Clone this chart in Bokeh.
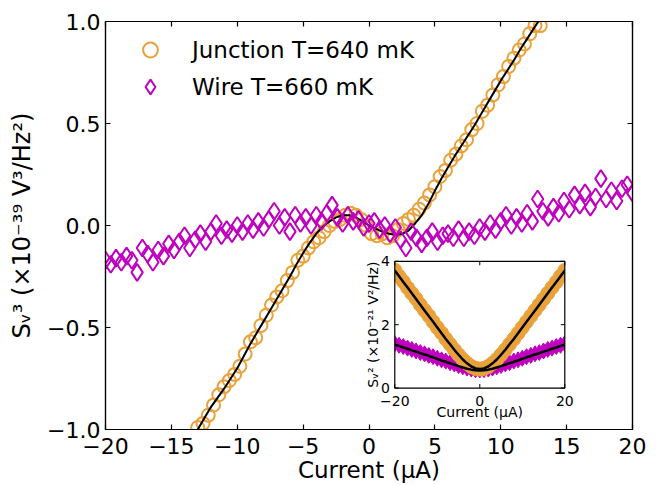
import math
from bokeh.plotting import figure
from bokeh.models import (Range1d, LinearAxis, FixedTicker, CustomJSTickFormatter,
                          Legend, LegendItem)
from bokeh.embed import file_html
from bokeh.resources import INLINE
from bokeh.core.properties import value

# ---------------- data ----------------
junction_x = [-13.0, -12.6, -12.2, -11.8, -11.4, -11.0, -10.6, -10.2, -9.8, -9.4,
              -9.0, -8.6, -8.2, -7.8, -7.4, -7.0, -6.6, -6.2, -5.8, -5.4,
              -5.0, -4.6, -4.2, -3.8, -3.4, -3.0, -2.6, -2.2, -1.8, -1.4,
              -1.0, -0.6, -0.2, 0.2, 0.6, 1.0, 1.4, 1.8, 2.2, 2.6,
              3.0, 3.4, 3.8, 4.2, 4.6, 5.0, 5.4, 5.8, 6.2, 6.6,
              7.0, 7.4, 7.8, 8.2, 8.6, 9.0, 9.4, 9.8, 10.2, 10.6,
              11.0, 11.4, 11.8, 12.2, 12.6, 13.0]
junction_y = [-0.99, -0.97, -0.93, -0.88, -0.83, -0.79, -0.76, -0.73, -0.69, -0.63,
              -0.57, -0.55, -0.49, -0.44, -0.39, -0.35, -0.32, -0.27, -0.23, -0.17,
              -0.15, -0.11, -0.08, -0.06, -0.03, 0.00, 0.02, 0.03, 0.05, 0.06,
              0.05, 0.03, 0.00, -0.04, -0.05, -0.04, -0.06, -0.05, -0.02, 0.01,
              0.03, 0.05, 0.08, 0.11, 0.15, 0.19, 0.24, 0.27, 0.32, 0.35,
              0.39, 0.42, 0.47, 0.50, 0.56, 0.59, 0.64, 0.69, 0.73, 0.78,
              0.82, 0.86, 0.89, 0.94, 0.98, 0.98]

fit_x = [-14.0, -13.5, -13.0, -12.5, -12.0, -11.5, -11.0, -10.5, -10.0, -9.5,
         -9.0, -8.5, -8.0, -7.5, -7.0, -6.5, -6.0, -5.5, -5.0, -4.5,
         -4.0, -3.5, -3.0, -2.5, -2.0, -1.5, -1.0, -0.5, 0.0, 0.5,
         1.0, 1.5, 2.0, 2.5, 3.0, 3.5, 4.0, 4.5, 5.0, 5.5,
         6.0, 6.5, 7.0, 7.5, 8.0, 8.5, 9.0, 9.5, 10.0, 10.5,
         11.0, 11.5, 12.0, 12.5, 13.0, 13.5, 14.0]
fit_y = [-1.11, -1.055, -1.00, -0.945, -0.89, -0.845, -0.80, -0.75, -0.70, -0.64,
         -0.58, -0.525, -0.47, -0.415, -0.36, -0.305, -0.25, -0.19, -0.135, -0.085,
         -0.04, -0.005, 0.02, 0.04, 0.05, 0.05, 0.04, 0.02, 0.00, -0.015,
         -0.03, -0.04, -0.045, -0.042, -0.025, 0.01, 0.05, 0.105, 0.17, 0.23,
         0.285, 0.34, 0.39, 0.44, 0.49, 0.545, 0.60, 0.655, 0.71, 0.76,
         0.81, 0.865, 0.915, 0.965, 1.015, 1.065, 1.115]

wire_x = [-20.0, -19.6, -19.2, -18.8, -18.4, -18.0, -17.6, -17.2, -16.8, -16.4,
          -16.0, -15.6, -15.2, -14.8, -14.4, -14.0, -13.6, -13.2, -12.8, -12.4,
          -12.0, -11.6, -11.2, -10.8, -10.4, -10.0, -9.6, -9.2, -8.8, -8.4,
          -8.0, -7.6, -7.2, -6.8, -6.4, -6.0, -5.6, -5.2, -4.8, -4.4,
          -4.0, -3.6, -3.2, -2.8, -2.4, -2.0, -1.6, -1.2, -0.8, -0.4,
          0.0, 0.4, 0.8, 1.2, 1.6, 2.0, 2.4, 2.8, 3.2, 3.6,
          4.0, 4.4, 4.8, 5.2, 5.6, 6.0, 6.4, 6.8, 7.2, 7.6,
          8.0, 8.4, 8.8, 9.2, 9.6, 10.0, 10.4, 10.8, 11.2, 11.6,
          12.0, 12.4, 12.8, 13.2, 13.6, 14.0, 14.4, 14.8, 15.2, 15.6,
          16.0, 16.4, 16.8, 17.2, 17.6, 18.0, 18.4, 18.8, 19.2, 19.6, 20.0]
wire_y = [-0.17, -0.19, -0.16, -0.18, -0.15, -0.17, -0.23, -0.11, -0.14, -0.18,
          -0.12, -0.15, -0.09, -0.12, -0.08, -0.05, -0.11, -0.07, -0.04, -0.08,
          -0.03, 0.01, -0.05, -0.02, -0.04, 0.00, -0.03, 0.01, -0.02, 0.02,
          -0.01, 0.03, 0.07, 0.00, 0.04, -0.03, 0.05, 0.01, 0.04, 0.00,
          0.05, 0.02, 0.06, 0.10, 0.04, 0.01, 0.05, 0.02, 0.03, -0.01,
          0.01, 0.02, -0.02, 0.00, -0.04, -0.01, -0.07, -0.11, -0.03, -0.06,
          -0.09, -0.06, -0.03, -0.08, -0.05, -0.04, -0.06, -0.02, -0.06, -0.03,
          -0.05, -0.01, -0.03, 0.01, -0.02, 0.02, 0.05, 0.00, 0.04, 0.01,
          0.06, 0.02, 0.13, 0.07, 0.04, 0.09, 0.06, 0.12, 0.08, 0.15,
          0.10, 0.16, 0.09, 0.14, 0.23, 0.13, 0.17, 0.12, 0.18, 0.20, 0.16]

# inset (S_V2 vs current)
inset_x = [-20, -19, -18, -17, -16, -15, -14, -13, -12, -11, -10, -9, -8, -7, -6, -5, -4, -3, -2, -1,
           0, 1, 2, 3, 4, 5, 6, 7, 8, 9, 10, 11, 12, 13, 14, 15, 16, 17, 18, 19, 20]
inset_junction = [3.72, 3.53, 3.36, 3.17, 2.99, 2.82, 2.63, 2.45, 2.28, 2.09, 1.91, 1.74, 1.55, 1.38, 1.21,
                  1.05, 0.90, 0.78, 0.68, 0.62, 0.60, 0.62, 0.68, 0.78, 0.90, 1.05, 1.21, 1.38, 1.55,
                  1.73, 1.91, 2.09, 2.27, 2.45, 2.63, 2.81, 2.99, 3.17, 3.35, 3.53, 3.71]
inset_junction_fit = [3.71, 3.53, 3.35, 3.17, 2.99, 2.81, 2.63, 2.45, 2.27, 2.09, 1.91, 1.73, 1.55, 1.38, 1.21,
                      1.05, 0.90, 0.78, 0.68, 0.62, 0.60, 0.62, 0.68, 0.78, 0.90, 1.05, 1.21, 1.38, 1.55,
                      1.73, 1.91, 2.09, 2.27, 2.45, 2.63, 2.81, 2.99, 3.17, 3.35, 3.53, 3.71]
inset_wire = [1.40, 1.35, 1.31, 1.26, 1.22, 1.17, 1.12, 1.08, 1.03, 0.99, 0.94, 0.89, 0.85, 0.80, 0.76,
              0.71, 0.67, 0.63, 0.60, 0.58, 0.57, 0.58, 0.60, 0.63, 0.67, 0.71, 0.76, 0.80, 0.85,
              0.89, 0.94, 0.99, 1.03, 1.08, 1.12, 1.17, 1.22, 1.26, 1.31, 1.35, 1.40]
inset_wire_fit = [1.37, 1.33, 1.28, 1.24, 1.19, 1.15, 1.10, 1.06, 1.01, 0.97, 0.92, 0.87, 0.83, 0.78, 0.74,
                  0.69, 0.65, 0.61, 0.58, 0.56, 0.55, 0.56, 0.58, 0.61, 0.65, 0.69, 0.74, 0.78, 0.83,
                  0.87, 0.92, 0.97, 1.01, 1.06, 1.10, 1.15, 1.19, 1.24, 1.28, 1.33, 1.37]

x_ticks = [-20, -15, -10, -5, 0, 5, 10, 15, 20]
y_ticks = [-1.0, -0.5, 0.0, 0.5, 1.0]
inset_xticks = [-20, 0, 20]
inset_xtick_labels = ["\u221220", "0", "20"]
inset_yticks = [0, 2, 4]
inset_ytick_labels = ["0", "2", "4"]
legend_labels = ["Junction T=640 mK", "Wire T=660 mK"]
x_label = "Current (\u03bcA)"
y_label = "S\u1d65\u00b3 (\u00d710\u207b\u00b3\u2079 V\u00b3/Hz\u00b2)"
inset_y_label = "S\u1d65\u00b2 (\u00d710\u207b\u00b2\u00b9 V\u00b2/Hz)"

# ---------------- styling ----------------
ORANGE = "#E9A23B"
MAGENTA = "#BF00BF"
SANS = "DejaVu Sans"

p = figure(frame_width=527, frame_height=408, x_range=Range1d(-20, 20), y_range=Range1d(-1, 1),
           output_backend="svg", toolbar_location=None,
           min_border_left=105, min_border_top=21, min_border_right=30, min_border_bottom=56)
p.xgrid.visible = False
p.ygrid.visible = False
p.outline_line_color = "black"
p.outline_line_width = 1.2

fx = CustomJSTickFormatter(code="return (tick < 0 ? '\u2212' : '') + Math.abs(tick).toFixed(0);")
fy = CustomJSTickFormatter(code="return (tick < 0 ? '\u2212' : '') + Math.abs(tick).toFixed(1);")
fnone = CustomJSTickFormatter(code="return '';")


def style_axis(ax, ticks, fmt):
    ax.ticker = FixedTicker(ticks=ticks)
    ax.formatter = fmt
    ax.major_tick_in = 5
    ax.major_tick_out = 0
    ax.minor_tick_line_color = None
    ax.axis_line_color = "black"
    ax.axis_line_width = 1.2
    ax.major_tick_line_color = "black"
    ax.major_tick_line_width = 1.2
    ax.major_label_text_font = SANS
    ax.major_label_text_color = "black"
    ax.major_label_text_font_size = "22px"


style_axis(p.xaxis[0], x_ticks, fx)
style_axis(p.yaxis[0], y_ticks, fy)
p.xaxis[0].major_label_standoff = 8
p.yaxis[0].major_label_standoff = 5
for ax, lab, standoff in ((p.xaxis[0], x_label, 0), (p.yaxis[0], y_label, 8)):
    ax.axis_label = lab
    ax.axis_label_text_font = SANS
    ax.axis_label_text_font_size = "23px" if ax is p.xaxis[0] else "24px"
    ax.axis_label_text_font_style = "normal"
    ax.axis_label_text_color = "black"
    ax.axis_label_standoff = standoff

top_ax = LinearAxis()
style_axis(top_ax, x_ticks, fnone)
p.add_layout(top_ax, "above")
right_ax = LinearAxis()
style_axis(right_ax, y_ticks, fnone)
p.add_layout(right_ax, "right")

r_j = p.scatter(junction_x, junction_y, marker="circle", size=13, fill_color=None,
                line_color=ORANGE, line_width=2)
p.line(fit_x, fit_y, line_color="black", line_width=2)
r_w = p.scatter(wire_x, wire_y, marker="diamond", size=17, fill_color=None,
                line_color=MAGENTA, line_width=2)

legend = Legend(items=[LegendItem(label=legend_labels[0], renderers=[r_j]),
                       LegendItem(label=legend_labels[1], renderers=[r_w])],
                location=(25, 408 - 13 - 71), border_line_color=None, background_fill_alpha=0,
                label_text_font=SANS, label_text_font_size="23px", label_text_color="black",
                glyph_width=40, glyph_height=37, spacing=-3, padding=0, margin=0,
                label_standoff=22)
p.add_layout(legend, "center")

# ---------------- inset ----------------
ix_range = Range1d(-20, 20)
iy_range = Range1d(0, 4)
sub = p.subplot(x_source=ix_range, y_source=iy_range,
                x_target=Range1d(1.958, 14.861), y_target=Range1d(-0.7967, -0.1756))
x0, x1, y0, y1 = ix_range.start, ix_range.end, iy_range.start, iy_range.end

sub.quad(left=[x0], right=[x1], bottom=[y0], top=[y1], fill_color="white", line_color=None)
sub.scatter(inset_x, inset_wire, marker="diamond", size=16, fill_color=MAGENTA,
            line_color=MAGENTA, line_width=1)
sub.scatter(inset_x, inset_junction, marker="circle", size=14, fill_color=ORANGE,
            line_color=ORANGE, line_width=1)
sub.line(inset_x, inset_junction_fit, line_color="black", line_width=2.5)
sub.line(inset_x, inset_wire_fit, line_color="black", line_width=2.5)
# masks: the inset axes clip their markers
pad = 2.3
sub.quad(left=[x0 - pad, x1], right=[x0, x1 + pad], bottom=[y0, y0], top=[y1, y1],
         fill_color="white", line_color=None)
sub.quad(left=[x0], right=[x1], bottom=[y0], top=[y1], fill_color=None,
         line_color="black", line_width=1.2)
# inward ticks
sub.ray(x=inset_xticks, y=[y0] * 3, length=4, length_units="screen", angle=math.pi / 2,
        line_color="black", line_width=1)
sub.ray(x=inset_xticks, y=[y1] * 3, length=4, length_units="screen", angle=-math.pi / 2,
        line_color="black", line_width=1)
sub.ray(x=[x0] * 3, y=inset_yticks, length=4, length_units="screen", angle=0,
        line_color="black", line_width=1)
sub.ray(x=[x1] * 3, y=inset_yticks, length=4, length_units="screen", angle=math.pi,
        line_color="black", line_width=1)
sub.text(x=inset_xticks, y=[y0] * 3, text=inset_xtick_labels, text_font=value(SANS),
         text_font_size="14px", text_align="center", text_baseline="top", y_offset=8,
         text_color="black")
sub.text(x=[x0] * 3, y=inset_yticks, text=inset_ytick_labels, text_font=value(SANS),
         text_font_size="14px", text_align="right", text_baseline="middle", x_offset=-5,
         text_color="black")
sub.text(x=[(x0 + x1) / 2], y=[y0], text=[x_label], text_font=value(SANS),
         text_font_size="14px", text_align="center", text_baseline="alphabetic", y_offset=24,
         text_color="black")
sub.text(x=[x0], y=[(y0 + y1) / 2], text=[inset_y_label], text_font=value(SANS),
         text_font_size="14px", text_align="center", text_baseline="alphabetic", x_offset=-22,
         angle=math.pi / 2, text_color="black")

open("out.html", "w").write(file_html(p, INLINE))
